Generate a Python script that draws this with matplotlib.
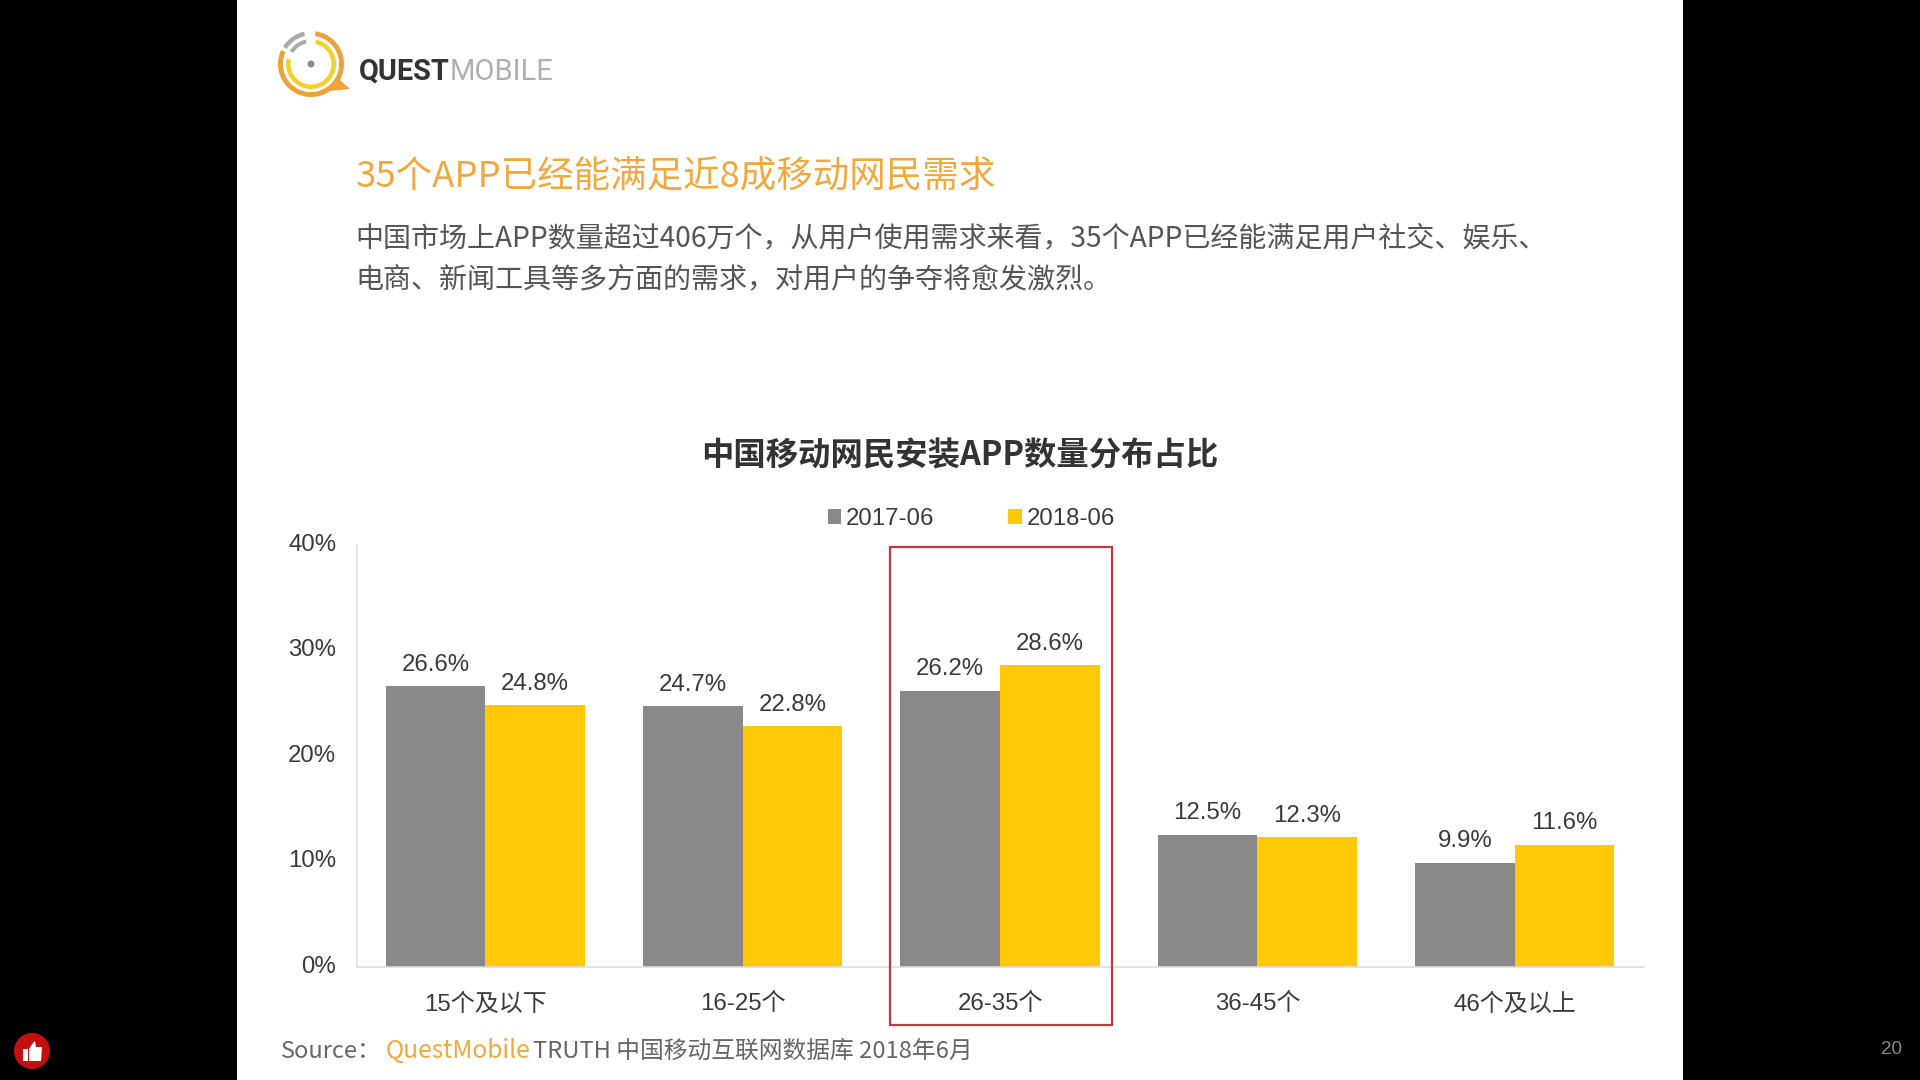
import matplotlib
matplotlib.use("Agg")
import matplotlib.pyplot as plt
import numpy as np
from matplotlib.patches import Rectangle, Circle, Polygon, Wedge
from matplotlib.transforms import ScaledTranslation

CJK = ['Noto Sans CJK SC', 'DejaVu Sans']
LAT = ['Liberation Sans', 'Noto Sans CJK SC', 'DejaVu Sans']

categories = ['15个及以下', '16-25个', '26-35个', '36-45个', '46个及以上']
series_2017 = [26.6, 24.7, 26.2, 12.5, 9.9]
series_2018 = [24.8, 22.8, 28.6, 12.3, 11.6]
series_names = ['2017-06', '2018-06']
yticks = [0, 10, 20, 30, 40]
heading = '35个APP已经能满足近8成移动网民需求'
body = ['中国市场上APP数量超过406万个，从用户使用需求来看，35个APP已经能满足用户社交、娱乐、',
        '电商、新闻工具等多方面的需求，对用户的争夺将愈发激烈。']
chart_title = '中国移动网民安装APP数量分布占比'

GRAY, YELLOW = '#898989', '#FFC907'
ORANGE = '#F0A93E'
TXT = '#3A3A3A'

fig = plt.figure(figsize=(19.2, 10.8), dpi=100, facecolor='black')

# page layer in pixel coordinates
bg = fig.add_axes([0, 0, 1, 1])
bg.set_xlim(0, 1920); bg.set_ylim(1080, 0); bg.axis('off')
bg.add_patch(Rectangle((237, 0), 1446, 1080, fc='white', ec='none'))

# logo (y axis is inverted, so wedge angles run clockwise on screen)
c = (311, 64)
bg.add_patch(Wedge(c, 33, -82, 205, width=5, fc='#EDA23A', ec='none'))
bg.add_patch(Polygon([(333, 74), (350, 89), (318, 92)], fc='#EDA23A', ec='none'))
bg.add_patch(Circle(c, 28, fc='white', ec='none'))
bg.add_patch(Wedge(c, 25, -78, 192, width=4.5, fc='#F4D02E', ec='none'))
bg.add_patch(Wedge(c, 33, 212, 258, width=4.5, fc='#ABABAB', ec='none'))
bg.add_patch(Wedge(c, 25, 212, 258, width=4, fc='#ABABAB', ec='none'))
bg.add_patch(Circle(c, 3.5, fc='#8E8E8E', ec='none'))
bg.text(359, 72, 'QUEST', family='Roboto', weight='bold', fontsize=20.8, color='#333333', va='center', ha='left')
bg.text(450, 72, 'MOBILE', family='Roboto', weight='normal', fontsize=21, color='#B0B0B0', va='center', ha='left')

# heading texts
bg.text(356, 176, heading, family=CJK, fontsize=26.3, color=ORANGE, va='center', ha='left')
bg.text(355.5, 238, body[0], family=CJK, fontsize=20.2, color='#555555', va='center', ha='left')
bg.text(355.5, 279, body[1], family=CJK, fontsize=20.2, color='#555555', va='center', ha='left')
bg.text(960, 456, chart_title, family=CJK, weight='bold', fontsize=23.3, color='#333333', va='center', ha='center')

# source
bg.text(281, 1051, 'Source：', family=CJK, fontsize=17, color='#666666', va='center', ha='left')
bg.text(386, 1051, 'QuestMobile', family=CJK, fontsize=17.7, color=ORANGE, va='center', ha='left')
bg.text(533, 1051, 'TRUTH 中国移动互联网数据库 2018年6月', family=CJK, fontsize=17.1, color='#666666', va='center', ha='left')

# page number and thumb badge
bg.text(1891, 1049, '20', family='Liberation Sans', fontsize=13.5, color='#8A8A8A', va='center', ha='center')
bg.add_patch(Circle((32, 1051), 18, fc='#C50F0F', ec='none'))
bg.add_patch(Rectangle((23, 1049), 5, 12, fc='white', ec='none'))
bg.add_patch(Polygon([(29, 1049), (33, 1043), (35, 1041), (36, 1047), (42, 1047), (41, 1061), (29, 1061)], fc='white', ec='none'))

# chart
ax = fig.add_axes([356.5 / 1920, 113 / 1080, 1287 / 1920, 422 / 1080])
ax.patch.set_alpha(0)
x = np.arange(len(categories))
w = 0.387
b1 = ax.bar(x - w / 2, series_2017, w, color=GRAY, label=series_names[0])
b2 = ax.bar(x + w / 2, series_2018, w, color=YELLOW, label=series_names[1])
for bars in (b1, b2):
    ax.bar_label(bars, labels=[f'{b.get_height():.1f}%' for b in bars], padding=7.7,
                 fontsize=17.3, color=TXT, family=LAT)
ax.set_xlim(-0.5, 4.5)
ax.set_ylim(0, 40)
ax.set_xticks(x, categories, family=LAT, fontsize=17.3, color=TXT)
ax.set_yticks(yticks, [f'{v}%' for v in yticks], family=LAT, fontsize=17.3, color=TXT)
ax.tick_params(length=0)
ax.tick_params(axis='x', pad=19)
ax.tick_params(axis='y', pad=14.5)
up = ScaledTranslation(0, 2 / 72, fig.dpi_scale_trans)
for lab in ax.get_yticklabels():
    lab.set_transform(lab.get_transform() + up)
for s in ('top', 'right'):
    ax.spines[s].set_visible(False)
for s in ('left', 'bottom'):
    ax.spines[s].set_color('#DDDDDD')
    ax.spines[s].set_linewidth(1.2)

# highlight box around the third category
ax.add_patch(Rectangle((1.574, -5.5), 0.862, 45.3, fill=False, ec='#BE3A3E', lw=1.6, clip_on=False, zorder=5))

ax.legend(loc='center', bbox_to_anchor=(0.4776, 1.062), ncol=2, frameon=False,
          prop={'family': 'Liberation Sans', 'size': 17.3},
          handlelength=0.55, handleheight=0.55, handletextpad=0.2, columnspacing=3.1,
          labelcolor=TXT, borderpad=0, borderaxespad=0)

fig.savefig('out.png', dpi=100, facecolor='black')
